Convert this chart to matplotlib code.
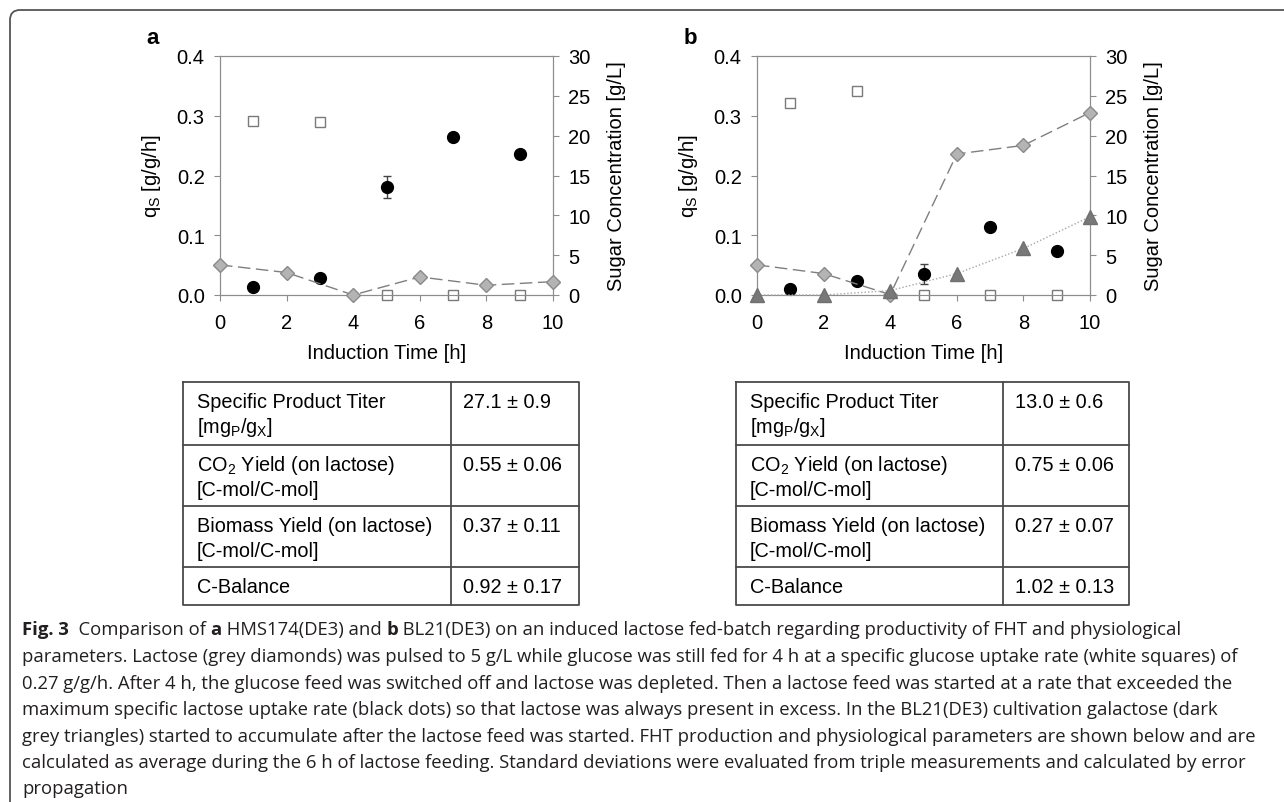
import numpy as np
import matplotlib
matplotlib.use("Agg")
from matplotlib import pyplot as plt
from matplotlib import font_manager
from matplotlib.patches import FancyBboxPatch

# ---- data ----
hours_qs = [1, 3, 5, 7, 9]
hours_conc = [0, 2, 4, 6, 8, 10]

a_glucose_qs = [0.291, 0.290, 0.0, 0.0, 0.0]
a_lactose_qs = [0.014, 0.0285, 0.181, 0.265, 0.2355]
a_lactose_err = [0.0, 0.0, 0.018, 0.0, 0.0]
a_lactose_conc = [3.78, 2.82, 0.0, 2.27, 1.22, 1.68]

b_glucose_qs = [0.322, 0.342, 0.0, 0.0, 0.0]
b_lactose_qs = [0.0107, 0.0235, 0.0348, 0.113, 0.0734]
b_lactose_err = [0.0, 0.0, 0.017, 0.0, 0.006]
b_lactose_conc = [3.78, 2.69, 0.05, 17.7, 18.78, 22.9]
b_galactose_conc = [0.0, 0.0, 0.55, 2.69, 5.84, 9.82]

table_rows = [("Specific Product Titer", "[mg$_\\mathregular{P}$/g$_\\mathregular{X}$]"),
              ("CO$_\\mathregular{2}$ Yield (on lactose)", "[C-mol/C-mol]"),
              ("Biomass Yield (on lactose)", "[C-mol/C-mol]"),
              ("C-Balance", "")]
a_values = ["27.1 ± 0.9", "0.55 ± 0.06", "0.37 ± 0.11", "0.92 ± 0.17"]
b_values = ["13.0 ± 0.6", "0.75 ± 0.06", "0.27 ± 0.07", "1.02 ± 0.13"]

caption = [
    [("Fig. 3", True), ("  Comparison of ", False), ("a", True), (" HMS174(DE3) and ", False), ("b", True),
     (" BL21(DE3) on an induced lactose fed-batch regarding productivity of FHT and physiological", False)],
    [("parameters. Lactose (grey diamonds) was pulsed to 5 g/L while glucose was still fed for 4 h at a specific glucose uptake rate (white squares) of", False)],
    [("0.27 g/g/h. After 4 h, the glucose feed was switched off and lactose was depleted. Then a lactose feed was started at a rate that exceeded the", False)],
    [("maximum specific lactose uptake rate (black dots) so that lactose was always present in excess. In the BL21(DE3) cultivation galactose (dark", False)],
    [("grey triangles) started to accumulate after the lactose feed was started. FHT production and physiological parameters are shown below and are", False)],
    [("calculated as average during the 6 h of lactose feeding. Standard deviations were evaluated from triple measurements and calculated by error", False)],
    [("propagation", False)],
]


def have_font(name):
    try:
        font_manager.findfont(font_manager.FontProperties(family=name), fallback_to_default=False)
        return True
    except ValueError:
        return False


plt.rcParams['font.family'] = ['Liberation Sans', 'DejaVu Sans']
plt.rcParams['mathtext.default'] = 'regular'

if have_font('Liberation Sans Narrow'):
    cap_font, cap_size = 'Liberation Sans Narrow', 15
else:
    cap_font, cap_size = 'Open Sans', 13.3

W, H = 1284, 803
fig = plt.figure(figsize=(W / 100, H / 100), dpi=100)

spine_col = '#8c8c8c'


def panel(left, glucose, lactose, lerr, lconc, galactose, letter):
    ax = fig.add_axes([left / W, 1 - 296 / H, 333 / W, 239 / H])
    ax.set_xlim(0, 10)
    ax.set_ylim(0, 0.4)
    ax.set_xticks(range(0, 11, 2))
    ax.set_yticks(np.arange(0, 0.41, 0.1))
    ax.set_yticklabels(["%.1f" % v for v in np.arange(0, 0.41, 0.1)])
    for s in ax.spines.values():
        s.set_color(spine_col)
    ax.tick_params(direction='out', length=4, color=spine_col, labelsize=14.5)
    ax.tick_params(axis='x', pad=9)
    ax.tick_params(axis='y', pad=7)
    ax.set_xlabel("Induction Time [h]", fontsize=14.5, labelpad=8)
    ax.set_ylabel("q$_\\mathregular{S}$ [g/g/h]", fontsize=14.5, labelpad=10)

    ax2 = ax.twinx()
    ax2.set_ylim(0, 30)
    ax2.set_yticks(range(0, 31, 5))
    for s in ax2.spines.values():
        s.set_color(spine_col)
    ax2.tick_params(direction='out', length=4, color=spine_col, labelsize=14.5, pad=7)
    ax2.set_ylabel("Sugar Concentration [g/L]", fontsize=14.5, labelpad=12)

    ax.plot(hours_qs, glucose, 's', ms=7.8, mfc='white', mec='#7a7a7a', mew=1, clip_on=False, zorder=4)
    ax.errorbar(hours_qs, lactose, yerr=lerr, fmt='o', ms=8.5, color='black', ecolor='#444444',
                elinewidth=1, capsize=3, clip_on=False, zorder=5)
    ax2.plot(hours_conc, lconc, 'D', ls=(0, (9, 4)), lw=1, color='#7f7f7f', ms=7,
             mfc='#b4b4b4', mec='#8a8a8a', mew=1, clip_on=False, zorder=3)
    if galactose is not None:
        ax2.plot(hours_conc, galactose, '^', ls=(0, (1, 1.5)), lw=1, color='#a8a8a8', ms=9.5,
                 mfc='#787878', mec='#707070', clip_on=False, zorder=4)
    fig.text((left - 67) / W, 1 - 38 / H, letter, fontsize=16, fontweight='bold', ha='center', va='center')
    return ax


panel(220, a_glucose_qs, a_lactose_qs, a_lactose_err, a_lactose_conc, None, 'a')
panel(757, b_glucose_qs, b_lactose_qs, b_lactose_err, b_lactose_conc, b_galactose_conc, 'b')

# overlay in pixel coordinates for tables, frame and caption
ov = fig.add_axes([0, 0, 1, 1])
ov.set_xlim(0, W)
ov.set_ylim(H, 0)
ov.axis('off')

row_edges = [383, 446, 507, 568, 606]


def table(x0, xm, x1, values):
    ov.plot([x0, x1, x1, x0, x0], [row_edges[0], row_edges[0], row_edges[-1], row_edges[-1], row_edges[0]],
            color='#4a4a4a', lw=1.3)
    ov.plot([xm, xm], [row_edges[0], row_edges[-1]], color='#4a4a4a', lw=1.3)
    for y in row_edges[1:-1]:
        ov.plot([x0, x1], [y, y], color='#4a4a4a', lw=1.3)
    for i, (l1, l2) in enumerate(table_rows):
        top = row_edges[i]
        ov.text(x0 + 14, top + 20, l1, fontsize=14.3, va='center', ha='left')
        if l2:
            ov.text(x0 + 14, top + 45, l2, fontsize=14.3, va='center', ha='left')
        ov.text(xm + 12, top + 20, values[i], fontsize=14.3, va='center', ha='left')


table(183, 451, 579, a_values)
table(736, 1003, 1129, b_values)

# frame with rounded top-left corner
frame = FancyBboxPatch((0.10, -2.0), 15.0, 2.0 + (H - 11) / 100,
                       boxstyle="round,pad=0,rounding_size=0.1",
                       transform=fig.dpi_scale_trans, fill=False, ec='#555555', lw=1.3)
fig.add_artist(frame)

# caption
line_y = [630, 657, 684, 710, 737, 763, 789]
for y, pieces in zip(line_y, caption):
    prev = None
    for txt, bold in pieces:
        kw = dict(fontsize=cap_size, family=[cap_font, 'DejaVu Sans'],
                  fontweight='bold' if bold else 'normal', color='#231f20')
        if prev is None:
            prev = ov.text(22, y, txt, ha='left', va='center', **kw)
        else:
            prev = ov.annotate(txt, xy=(1, 0), xycoords=prev, ha='left', va='bottom', **kw)

fig.savefig("out.png", dpi=100)
